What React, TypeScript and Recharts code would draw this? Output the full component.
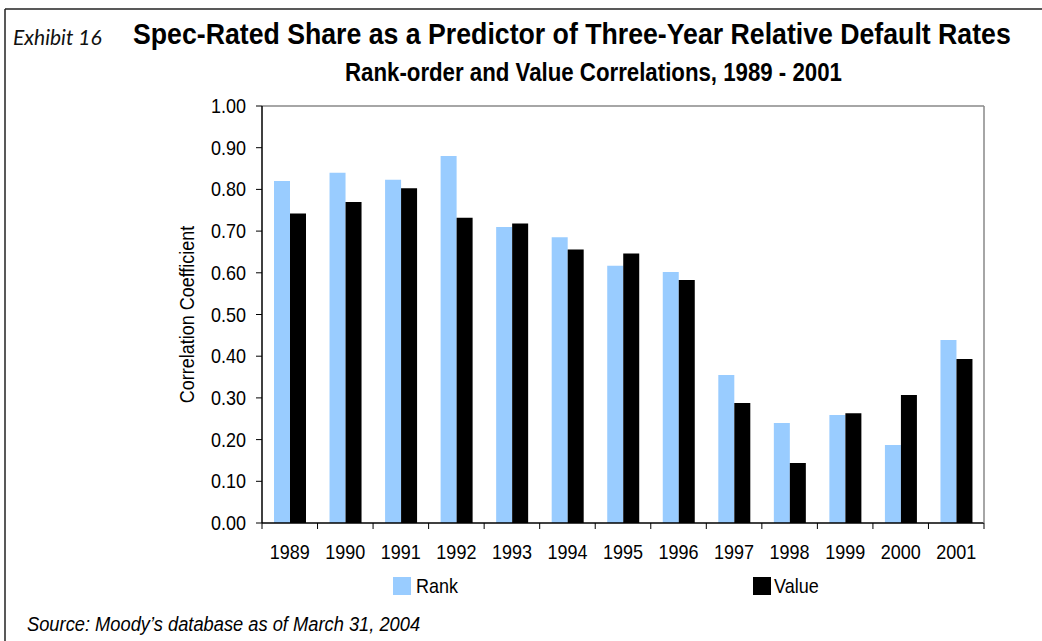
import React from 'react';
import { BarChart, Bar, XAxis, YAxis, ReferenceLine } from 'recharts';

const YEARS = ['1989', '1990', '1991', '1992', '1993', '1994', '1995', '1996', '1997', '1998', '1999', '2000', '2001'];
const RANK = [0.82, 0.84, 0.823, 0.88, 0.71, 0.685, 0.617, 0.602, 0.355, 0.24, 0.259, 0.187, 0.439];
const VALUE = [0.742, 0.77, 0.803, 0.732, 0.718, 0.656, 0.646, 0.583, 0.288, 0.144, 0.263, 0.307, 0.393];
const Y_TICKS = [0, 0.1, 0.2, 0.3, 0.4, 0.5, 0.6, 0.7, 0.8, 0.9, 1.0];

const TITLE = 'Spec-Rated Share as a Predictor of Three-Year Relative Default Rates';
const SUBTITLE = 'Rank-order and Value Correlations, 1989 - 2001';
const SOURCE = 'Source: Moody\u2019s database as of March 31, 2004';
const Y_LABEL = 'Correlation Coefficient';

const data = YEARS.map((year, i) => ({ year, rank: RANK[i], value: VALUE[i] }));

// no Helvetica Narrow here, so squeeze Liberation Sans horizontally
const SANS = "'Liberation Sans', Arial, Helvetica, sans-serif";
const SQUEEZE = 0.9;
const W = 1042;
const H = 641;

const Narrow = ({ x, y, sx = SQUEEZE, rotate = 0, children, ...rest }: any) => (
    <text
        transform={`translate(${x},${y}) rotate(${rotate}) scale(${sx},1)`}
        fontFamily={SANS}
        fill="#000"
        {...rest}
    >
        {children}
    </text>
);

// Excel-style category axis: ticks sit between the categories, labels in the middle
const YearTick = (props: any) => {
    const { x, y, payload, index, visibleTicksCount } = props;
    const half = payload.offset || 27.75;
    return (
        <g>
            <line x1={x - half} y1={y} x2={x - half} y2={y + 6} stroke="#000" />
            {index === visibleTicksCount - 1 && (
                <line x1={x + half} y1={y} x2={x + half} y2={y + 6} stroke="#000" />
            )}
            <Narrow x={x} y={y + 36} textAnchor="middle" fontSize={20}>
                {payload.value}
            </Narrow>
        </g>
    );
};

const ValueTick = (props: any) => {
    const { x, y, payload } = props;
    return (
        <Narrow x={x} y={y + 7} textAnchor="end" fontSize={20}>
            {Number(payload.value).toFixed(2)}
        </Narrow>
    );
};

const AxisTitle = (props: any) => {
    const vb = props.viewBox;
    return (
        <Narrow x={vb.x + vb.width / 2} y={vb.y + vb.height / 2} rotate={-90} textAnchor="middle" dy={7} fontSize={20}>
            {Y_LABEL}
        </Narrow>
    );
};

export default function App() {
    return (
        <div style={{ position: 'absolute', left: 0, top: 0, width: W, height: H, background: '#fff' }}>
            <BarChart
                width={W}
                height={H}
                data={data}
                barGap={0}
                margin={{ top: 106, right: 57, bottom: 68, left: 112 }}
            >
                <XAxis
                    dataKey="year"
                    height={50}
                    tickSize={0}
                    tickMargin={0}
                    tickLine={false}
                    axisLine={{ stroke: '#000', strokeWidth: 1.5 }}
                    tick={<YearTick />}
                    interval={0}
                />
                <YAxis
                    width={150}
                    domain={[0, 1]}
                    ticks={Y_TICKS}
                    tickSize={6}
                    tickMargin={10}
                    tickLine={{ stroke: '#000' }}
                    axisLine={{ stroke: '#000', strokeWidth: 1.5 }}
                    tick={<ValueTick />}
                    label={{ content: <AxisTitle />, position: 'center' }}
                />
                <YAxis
                    yAxisId="right"
                    orientation="right"
                    width={1}
                    domain={[0, 1]}
                    tick={false}
                    tickLine={false}
                    axisLine={{ stroke: '#888', strokeWidth: 1.5 }}
                />
                <ReferenceLine y={1} stroke="#888" strokeWidth={1.5} />
                <Bar dataKey="rank" name="Rank" fill="#99CCFF" barSize={16} isAnimationActive={false} />
                <Bar dataKey="value" name="Value" fill="#000000" barSize={16} isAnimationActive={false} />
            </BarChart>

            <svg
                width={W}
                height={H}
                style={{ position: 'absolute', left: 0, top: 0, pointerEvents: 'none' }}
            >
                {/* frame */}
                <line x1={5} y1={9} x2={W} y2={9} stroke="#222" strokeWidth={1.5} />
                <line x1={5} y1={9} x2={5} y2={H} stroke="#222" strokeWidth={1.5} />

                <text x={13} y={45} fontFamily="Lato, 'Open Sans', sans-serif" fontStyle="italic" fontSize={21} fill="#111">
                    Exhibit 16
                </text>
                <Narrow x={133} y={43.5} sx={0.89} fontWeight="bold" fontSize={30}>
                    {TITLE}
                </Narrow>
                <Narrow x={345} y={81} sx={0.89} fontWeight="bold" fontSize={25}>
                    {SUBTITLE}
                </Narrow>

                {/* legend */}
                <rect x={393} y={577} width={18} height={18} fill="#99CCFF" />
                <Narrow x={416} y={593} fontSize={20}>Rank</Narrow>
                <rect x={753} y={577} width={18} height={18} fill="#000" />
                <Narrow x={774} y={593} fontSize={20}>Value</Narrow>

                <Narrow x={27} y={631} sx={0.915} fontStyle="italic" fontSize={20}>
                    {SOURCE}
                </Narrow>
            </svg>
        </div>
    );
}
